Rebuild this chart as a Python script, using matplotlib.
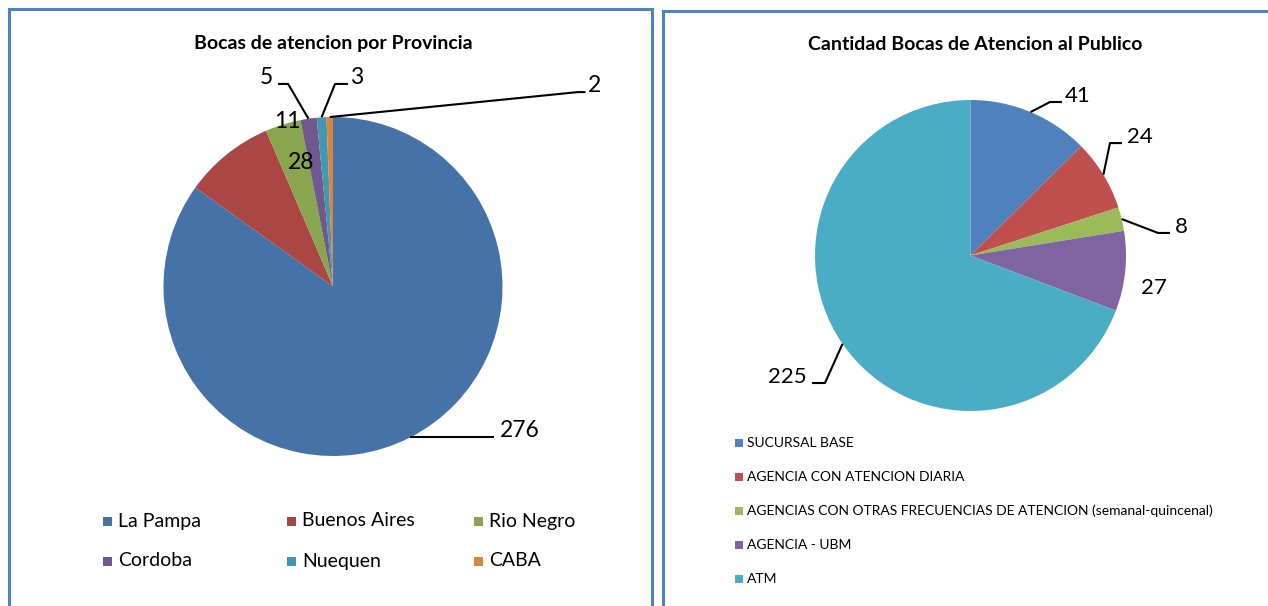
import numpy as np
import matplotlib
matplotlib.use("Agg")
import matplotlib.pyplot as plt
from matplotlib.patches import Rectangle

plt.rcParams['font.family'] = ['Lato', 'DejaVu Sans']

# datos
provincias = ['La Pampa', 'Buenos Aires', 'Rio Negro', 'Cordoba', 'Nuequen', 'CABA']
bocas_prov = [276, 28, 11, 5, 3, 2]
colores_prov = ['#4572A7', '#AA4643', '#89A54E', '#71588F', '#4198AF', '#DB843D']

tipos = ['SUCURSAL BASE', 'AGENCIA CON ATENCION DIARIA',
         'AGENCIAS CON OTRAS FRECUENCIAS DE ATENCION (semanal-quincenal)',
         'AGENCIA - UBM', 'ATM']
bocas_tipo = [41, 24, 8, 27, 225]
colores_tipo = ['#4F81BD', '#C0504D', '#9BBB59', '#8064A2', '#4BACC6']

W, H = 1268, 606
fig = plt.figure(figsize=(W / 100, H / 100), dpi=100)


def fx(x):
    return x / W


def fy(y):
    return 1 - y / H


# marcos
fig.add_artist(Rectangle((fx(9), -0.05), fx(652 - 9), fy(9) + 0.05, transform=fig.transFigure,
                         fill=False, ec='#4F81BD', lw=2.2))
fig.add_artist(Rectangle((fx(663), -0.05), 0.5, fy(11) + 0.05, transform=fig.transFigure,
                         fill=False, ec='#4F81BD', lw=2.2))


def pie_ax(cx, cy, r):
    return fig.add_axes([fx(cx - r), fy(cy + r), fx(2 * r), 2 * r / H])


def etiquetas(ax, wedges, valores, disp, fs):
    for w, v, d in zip(wedges, valores, disp):
        ang = np.deg2rad((w.theta1 + w.theta2) / 2)
        px, py = np.cos(ang), np.sin(ang)
        if d[0] == 'in':
            ax.text(d[1], d[2], str(v), ha='center', va='center', fontsize=fs)
            continue
        ex, ey, hx, tx = d[1:]
        if ex is None:
            ex, ey = px, py
        ax.plot([px, ex, hx], [py, ey, ey], color='black', lw=1.5, clip_on=False,
                solid_capstyle='butt')
        ax.text(tx, ey, str(v), ha='left' if hx > ex else 'right', va='baseline', fontsize=fs)


# grafico izquierdo
ax1 = pie_ax(333, 286.5, 169.5)
w1, _ = ax1.pie(bocas_prov, colors=colores_prov, startangle=90, counterclock=False,
                wedgeprops=dict(linewidth=0))
ax1.set_xlim(-1, 1)
ax1.set_ylim(-1, 1)
disp1 = [('line', None, None, 0.950, 0.985),
         ('in', -0.189, 0.729),
         ('in', -0.271, 0.971),
         ('line', -0.265, 1.195, -0.324, -0.354),
         ('line', 0.012, 1.195, 0.088, 0.100),
         ('line', 1.445, 1.147, 1.490, 1.504)]
etiquetas(ax1, w1, bocas_prov, disp1, 16.5)
fig.text(fx(333), fy(43), 'Bocas de atencion por Provincia', ha='center', va='center',
         fontsize=14, fontweight='bold')

for i, (lab, col) in enumerate(zip(provincias, colores_prov)):
    fila, c = divmod(i, 3)
    x0 = [103, 287, 474][c]
    y0 = 521 + fila * 40
    fig.add_artist(Rectangle((fx(x0), fy(y0 + 4.5)), fx(9), 9 / H, transform=fig.transFigure,
                             color=col, lw=0))
    fig.text(fx(x0 + 15), fy(y0), lab, ha='left', va='center', fontsize=14)

# grafico derecho
ax2 = pie_ax(970.5, 255.5, 155.5)
w2, _ = ax2.pie(bocas_tipo, colors=colores_tipo, startangle=90, counterclock=False,
                wedgeprops=dict(linewidth=0))
ax2.set_xlim(-1, 1)
ax2.set_ylim(-1, 1)
disp2 = [('line', 0.511, 0.987, 0.588, 0.608),
         ('line', 0.897, 0.723, 0.974, 1.006),
         ('line', 1.206, 0.145, 1.283, 1.315),
         ('in', 1.177, -0.212),
         ('line', -0.936, -0.820, -1.019, -1.051)]
etiquetas(ax2, w2, bocas_tipo, disp2, 16)
fig.text(fx(975), fy(44), 'Cantidad Bocas de Atencion al Publico', ha='center', va='center',
         fontsize=14, fontweight='bold')

for i, (lab, col) in enumerate(zip(tipos, colores_tipo)):
    y0 = 443 + i * 34
    fig.add_artist(Rectangle((fx(735), fy(y0 + 4)), fx(8), 8 / H, transform=fig.transFigure,
                             color=col, lw=0))
    fig.text(fx(747), fy(y0), lab, ha='left', va='center', fontsize=10)

fig.savefig('out.png', dpi=100)
